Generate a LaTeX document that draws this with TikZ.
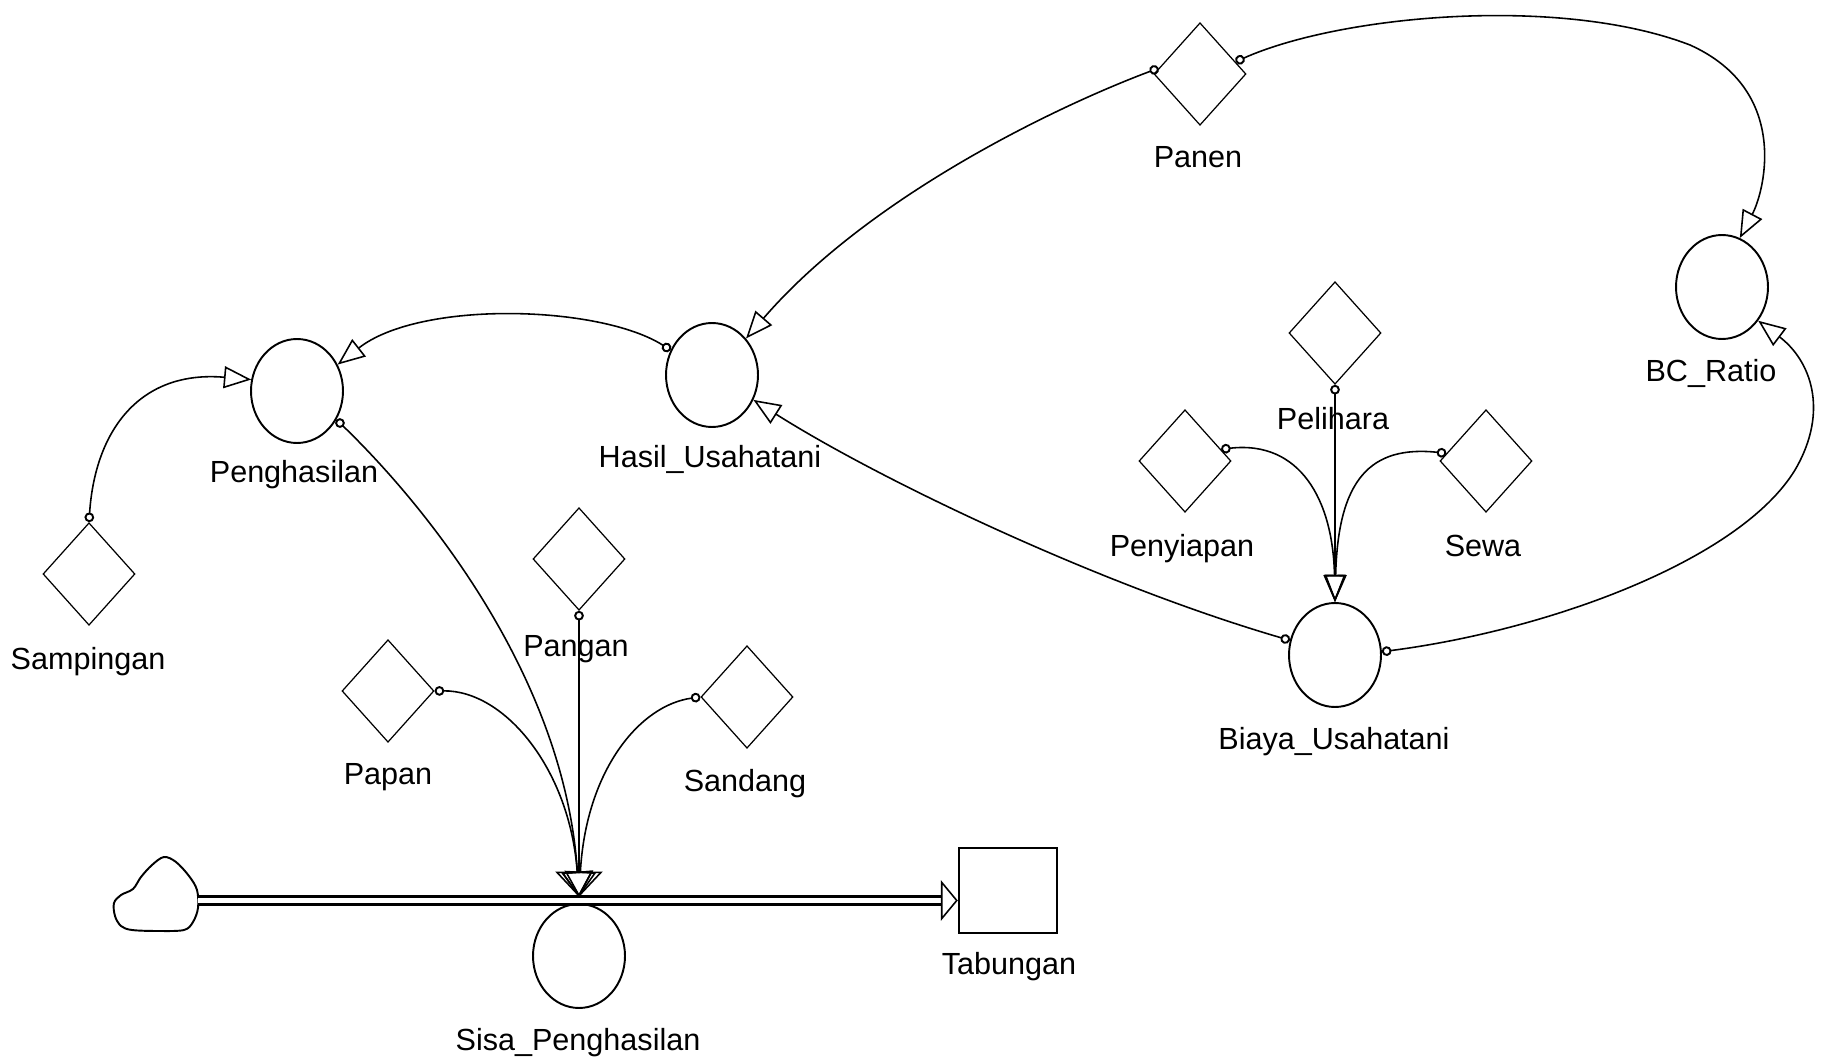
\documentclass[tikz,border=0pt]{standalone}
\usepackage{fontspec}
\setmainfont{Liberation Sans}
\usetikzlibrary{shapes.geometric,arrows.meta,calc}
\begin{document}
\begin{tikzpicture}[x=0.02cm,y=-0.02cm,
  aux/.style={draw,diamond,line width=0.7pt,minimum width=1.84cm,minimum height=2.05cm,inner sep=0pt},
  conv/.style={draw,ellipse,line width=1.1pt,minimum width=1.84cm,minimum height=2.08cm,inner sep=0pt},
  stock/.style={draw,rectangle,line width=1.4pt,minimum width=1.96cm,minimum height=1.7cm,inner sep=0pt},
  lbl/.style={inner sep=0pt,anchor=base,font=\fontsize{17.4pt}{20pt}\selectfont},
  link/.style={line width=0.9pt,{Circle[open,length=5.5pt,line width=1.1pt]}-{Triangle[open,length=15.5pt,width=12.5pt]}},
  linkw/.style={line width=0.9pt,{Circle[open,length=5.5pt,line width=1.1pt]}-{Triangle[open,length=14.5pt,width=27pt]}},
  linkm/.style={line width=0.9pt,{Circle[open,length=5.5pt,line width=1.1pt]}-{Triangle[open,length=14.5pt,width=18pt]}},
  pipe/.style={line width=1.7pt,double,double distance=2.3pt},
  flowhead/.style={line width=0.9pt,-{Triangle[open,length=9.6pt,width=23pt]}},
  cloudline/.style={line width=1.1pt}
]
\useasboundingbox (0,0) rectangle (1827,1060);

% auxiliaries
\node[aux] (panen) at (1200,74) {};
\node[aux] (pelihara) at (1335,333) {};
\node[aux] (penyiapan) at (1185,461) {};
\node[aux] (sewa) at (1486,461) {};
\node[aux] (sampingan) at (89,574) {};
\node[aux] (pangan) at (579,559) {};
\node[aux] (papan) at (388,691) {};
\node[aux] (sandang) at (747,697) {};
% converters
\node[conv] (peng) at (297,391) {};
\node[conv] (hasil) at (712,375) {};
\node[conv] (bc) at (1722,287) {};
\node[conv] (biaya) at (1335,655) {};
\node[conv] (sisa) at (579,956) {};
% stock
\node[stock] (tab) at (1008,890.5) {};

% labels
\node[lbl] (panenT) at (1198,168) {Panen};
\node[lbl] (peliharaT) at (1333,430) {Pelihara};
\node[lbl] (penyiapanT) at (1182,557) {Penyiapan};
\node[lbl] (sewaT) at (1483,557) {Sewa};
\node[lbl] (biayaT) at (1334,750) {Biaya\_Usahatani};
\node[lbl] (bcT) at (1711,382) {BC\_Ratio};
\node[lbl] (hasilT) at (710,468) {Hasil\_Usahatani};
\node[lbl] (pengT) at (294,483) {Penghasilan};
\node[lbl] (sampinganT) at (88,670) {Sampingan};
\node[lbl] (panganT) at (576,657) {Pangan};
\node[lbl] (papanT) at (388,785) {Papan};
\node[lbl] (sandangT) at (745,792) {Sandang};
\node[lbl] (sisaT) at (578,1050) {Sisa\_Penghasilan};
\node[lbl] (tabT) at (1009,974) {Tabungan};

% cloud (source)
\draw[cloudline] plot[smooth cycle, tension=0.55] coordinates {
 (164,857) (176,862) (189,876) (197,890) (198,908) (193,922) (184,930)
 (158,931) (132,930) (121,926) (115,916) (114,903) (121,895) (133,889)
 (141,877) (152,865)};
\coordinate (cloudR) at (198,900.5);
\coordinate (valvetop) at (579,897);

% flow pipe
\draw[pipe] (cloudR) -- ($(cloudR -| tab.west)+(-17,0)$);
\draw[flowhead] ($(cloudR -| tab.west)+(-17,0)$) -- (cloudR -| tab.west);

% information links
\draw[link] (panen.172) .. controls (1060,105) and (870,195) .. (hasil.47);
\draw[link] (panen.19) .. controls (1340,15) and (1560,-5) .. (1690,45)
            .. controls (1790,90) and (1765,190) .. (bc.70);
\draw[link] (hasil.149) .. controls (600,305) and (420,300) .. (peng.33);
\draw[link] (sampingan.north) .. controls (95,430) and (140,370) .. (peng.166);
\draw[linkm] (peng.-36) .. controls (430,510) and (565,680) .. (valvetop);
\draw[linkw] (pangan.south) -- (valvetop);
\draw[linkm] (papan.east) .. controls (505,690) and (570,770) .. (valvetop);
\draw[linkm] (sandang.west) .. controls (640,705) and (586,770) .. (valvetop);
\draw[link] (biaya.162) .. controls (1100,585) and (880,480) .. (hasil.-31);
\draw[link] (biaya.4) .. controls (1550,630) and (1740,560) .. (1795,470)
            .. controls (1830,410) and (1810,360) .. (bc.-43);
\draw[link] (pelihara.south) -- (biaya.north);
\draw[link] (penyiapan.18) .. controls (1300,440) and (1333,500) .. (biaya.north);
\draw[link] (sewa.169) .. controls (1370,445) and (1338,480) .. (biaya.north);
\end{tikzpicture}
\end{document}
